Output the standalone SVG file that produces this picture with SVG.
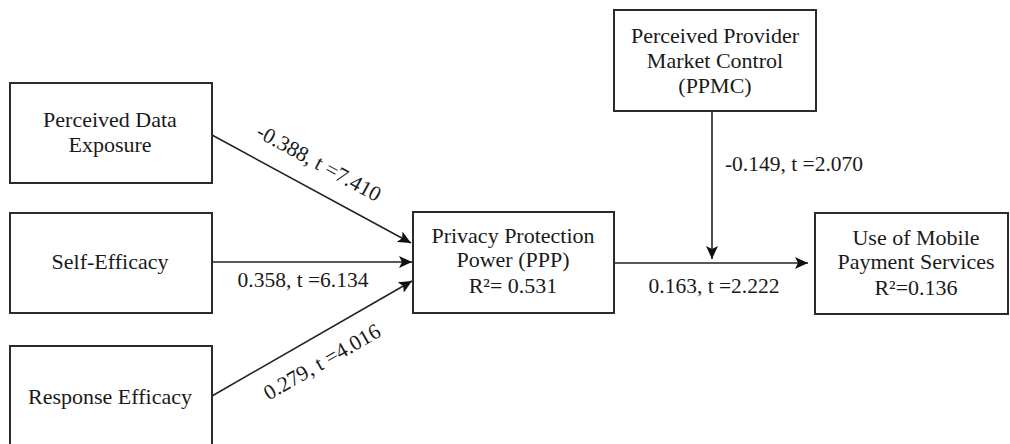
<svg xmlns="http://www.w3.org/2000/svg" width="1010" height="444" viewBox="0 0 1010 444">
<style>
.box{fill:#fff;stroke:#2b2b2b;stroke-width:2}
.t{font-family:"Liberation Serif","DejaVu Serif",serif;font-size:22px;fill:#1a1a1a;text-anchor:middle}
.lbl{font-family:"Liberation Serif","DejaVu Serif",serif;font-size:21.5px;fill:#1a1a1a;text-anchor:middle}
.edge{stroke:#222;stroke-width:1.6;fill:none;marker-end:url(#arr)}
</style>
<defs>
<marker id="arr" markerUnits="userSpaceOnUse" markerWidth="14" markerHeight="12" refX="13" refY="6" orient="auto">
<path d="M0,0 L13,6 L0,12 L3,6 z" fill="#111"/>
</marker>
</defs>
<rect width="1010" height="444" fill="#fff"/>
<g id="connectors">
<line class="edge" x1="212" y1="135" x2="411" y2="243"/>
<line class="edge" x1="212" y1="262" x2="412" y2="262"/>
<line class="edge" x1="212" y1="396" x2="412" y2="281"/>
<line class="edge" x1="712" y1="111" x2="712" y2="259"/>
<line class="edge" x1="614" y1="263" x2="808" y2="263"/>
<text class="lbl" transform="translate(319,163) rotate(28.6)" x="0" y="7">-0.388, t =7.410</text>
<text class="lbl" x="303" y="287">0.358, t =6.134</text>
<text class="lbl" transform="translate(322,362) rotate(-29.9)" x="0" y="7">0.279, t =4.016</text>
<text class="lbl" x="794" y="171">-0.149, t =2.070</text>
<text class="lbl" x="714" y="293">0.163, t =2.222</text>
</g>
<g id="pde">
<rect class="box" x="10" y="83" width="202" height="100"/>
<text class="t" x="110" y="127">Perceived Data</text>
<text class="t" x="110" y="152">Exposure</text>
</g>
<g id="se">
<rect class="box" x="10" y="213" width="202" height="100"/>
<text class="t" x="110" y="269">Self-Efficacy</text>
</g>
<g id="re">
<rect class="box" x="10" y="346" width="202" height="101"/>
<text class="t" x="110" y="404">Response Efficacy</text>
</g>
<g id="ppmc">
<rect class="box" x="614" y="10" width="202" height="101"/>
<text class="t" x="715" y="43">Perceived Provider</text>
<text class="t" x="715" y="68">Market Control</text>
<text class="t" x="715" y="93">(PPMC)</text>
</g>
<g id="ppp">
<rect class="box" x="413" y="212" width="201" height="101"/>
<text class="t" x="513" y="243">Privacy Protection</text>
<text class="t" x="513" y="267">Power (PPP)</text>
<text class="t" x="513" y="293">R²= 0.531</text>
</g>
<g id="use">
<rect class="box" x="815" y="213" width="193" height="101"/>
<text class="t" x="916" y="245">Use of Mobile</text>
<text class="t" x="916" y="269">Payment Services</text>
<text class="t" x="916" y="295">R²=0.136</text>
</g>
</svg>
